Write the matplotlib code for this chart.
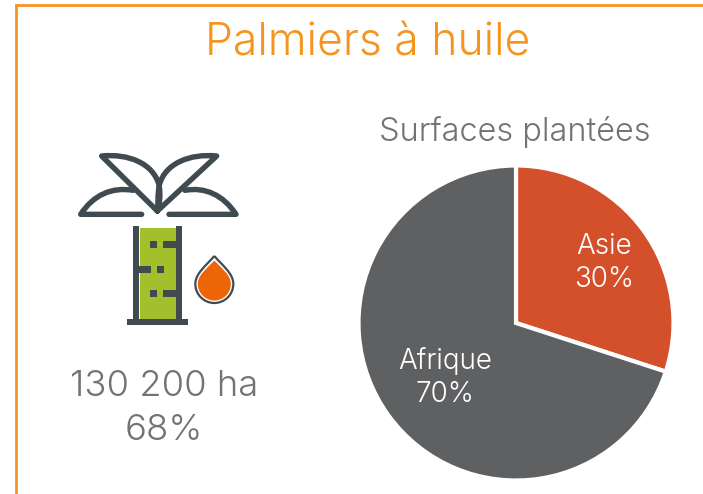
import matplotlib
matplotlib.use("Agg")
import matplotlib.pyplot as plt
from matplotlib.patches import PathPatch, Rectangle
from matplotlib.path import Path

regions = ["Asie", "Afrique"]
shares = [30, 70]
pie_colors = ["#d4502a", "#5f6062"]
title = "Palmiers à huile"
pie_title = "Surfaces plantées"
area_text = "130 200 ha"
area_share = "68%"

ORANGE = "#f7941e"
GREY = "#727375"
DARK = "#3f4b51"
GREEN = "#a3bf2b"
DROP = "#ee6507"

plt.rcParams["font.family"] = ["Inter", "DejaVu Sans"]
plt.rcParams["font.weight"] = 300

W, H = 703, 494
fig = plt.figure(figsize=(W / 100, H / 100), dpi=100, facecolor="white")

# overlay in pixel coordinates for the frame, the texts and the icon
bg = fig.add_axes([0, 0, 1, 1])
bg.set_xlim(0, W)
bg.set_ylim(H, 0)
bg.axis("off")

bg.plot([16, 16, W], [H, 5, 5], color=ORANGE, lw=2.0, solid_joinstyle="miter")

bg.text(368, 43, title, color=ORANGE, fontsize=32, ha="center", va="center")
bg.text(515, 132, pie_title, color=GREY, fontsize=23.4, ha="center", va="center")
bg.text(164, 386, area_text, color=GREY, fontsize=26.2, ha="center", va="center")
bg.text(164, 430, area_share, color=GREY, fontsize=26.2, ha="center", va="center")


# icon coordinates were read from a 3x zoom at (60, 130)
def z(x, y):
    return (60 + x / 3, 130 + y / 3)


def stroke(points, codes):
    path = Path([z(*p) for p in points], codes)
    bg.add_patch(PathPatch(path, fill=False, edgecolor=DARK, lw=3.9,
                           capstyle="round", joinstyle="round"))


M, L, C = Path.MOVETO, Path.LINETO, Path.CURVE4

# upper leaves
stroke([(292, 243), (125, 78), (205, 70), (280, 100), (297, 165), (303, 195), (298, 225), (292, 243)],
       [M, L, C, C, C, C, C, C])
stroke([(292, 243), (470, 78), (390, 70), (315, 100), (298, 165), (292, 195), (295, 225), (292, 243)],
       [M, L, C, C, C, C, C, C])
# lower leaves
stroke([(245, 253), (62, 253), (100, 195), (155, 170), (220, 181)], [M, L, C, C, C])
stroke([(327, 253), (528, 253), (490, 195), (435, 170), (375, 181)], [M, L, C, C, C])


def box(x0, y0, x1, y1, color=DARK):
    (a, b), (c, d) = z(x0, y0), z(x1, y1)
    bg.add_patch(Rectangle((a, b), c - a, d - b, facecolor=color, edgecolor="none"))


# trunk
box(240, 295, 348, 570, GREEN)
box(218, 287, 238, 572)
box(348, 287, 367, 572)
box(200, 568, 383, 586)
for x0, y0, x1, y1 in [(271, 333, 291, 353), (308, 333, 348, 353),
                       (238, 408, 272, 428), (291, 408, 311, 428),
                       (271, 480, 291, 500), (308, 480, 348, 500)]:
    box(x0, y0, x1, y1)


# oil drop
def drop(tip, r, **kw):
    cx, cy = z(463, 462)
    tx, ty = z(463, tip)
    k = 0.5523 * r
    verts = [(tx, ty), (cx + r * 0.45, cy - r * 0.95), (cx + r, cy - k), (cx + r, cy),
             (cx + r, cy + k), (cx + k, cy + r), (cx, cy + r),
             (cx - k, cy + r), (cx - r, cy + k), (cx - r, cy),
             (cx - r, cy - k), (cx - r * 0.45, cy - r * 0.95), (tx, ty)]
    bg.add_patch(PathPatch(Path(verts, [M] + [C] * 12), **kw))


drop(378, 19, facecolor="white", edgecolor=DARK, lw=1.6, zorder=3)
drop(392, 16.5, facecolor=DROP, edgecolor="none", zorder=4)

# pie centred on (516, 323) with radius 157 px
R = 157.5
ax = fig.add_axes([(516 - R) / W, 1 - (323 + R) / H, 2 * R / W, 2 * R / H])
wedges, texts = ax.pie(shares, colors=pie_colors, startangle=90, counterclock=False,
                       wedgeprops={"edgecolor": "white", "linewidth": 3},
                       labels=[f"{n}\n{v}%" for n, v in zip(regions, shares)],
                       labeldistance=0.69, radius=1,
                       textprops={"color": "white", "fontsize": 20})
ax.set_xlim(-1, 1)
ax.set_ylim(-1, 1)
for t in texts:
    t.set_ha("center")
    t.set_va("center")
    t.set_clip_on(False)
    t.set_linespacing(1.3)
texts[0].set_position((0.56, 0.38))
texts[1].set_position((-0.45, -0.345))
ax.patch.set_alpha(0)

fig.savefig("out.png", dpi=100)
